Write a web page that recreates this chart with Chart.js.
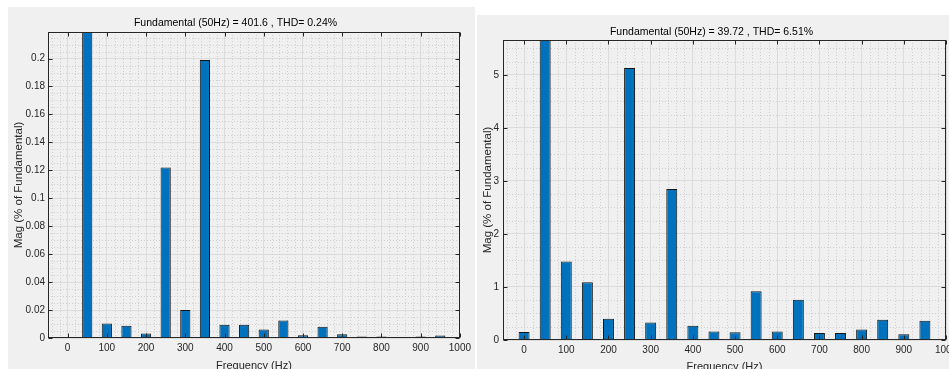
<!DOCTYPE html>
<html><head><meta charset="utf-8">
<script src="https://cdn.jsdelivr.net/npm/chart.js@4.4.0/dist/chart.umd.min.js"></script>
<style>
html,body{margin:0;padding:0;background:#fff;width:949px;height:369px;overflow:hidden;position:relative}
.panel{position:absolute;background:#f0f0f0}
canvas{position:absolute;left:0;top:0}
.wrap{position:absolute}
</style></head><body>
<div class="panel" style="left:8px;top:7px;width:467px;height:362px"></div>
<div class="panel" style="left:477px;top:15px;width:472px;height:354px"></div>
<div class="wrap" style="left:8px;top:7px;"><canvas id="c1" width="467" height="372"></canvas></div>
<div class="wrap" style="left:477px;top:15px;"><canvas id="c2" width="500" height="364"></canvas></div>
<script>
// ---- data ----
const frequencies = [0,50,100,150,200,250,300,350,400,450,500,550,600,650,700,750,800,850,900,950];
const magLeft  = [0,100,0.0104,0.0087,0.0032,0.122,0.0200,0.199,0.0094,0.0094,0.0060,0.0125,0.0020,0.0080,0.0027,0.0010,0.0010,0.0008,0.0010,0.0017];
const magRight = [0.15,100,1.48,1.09,0.40,5.13,0.33,2.85,0.27,0.16,0.145,0.92,0.16,0.76,0.13,0.13,0.20,0.38,0.11,0.365];
const xTickValues = [0,100,200,300,400,500,600,700,800,900,1000];
const yTicksLeft  = [0,0.02,0.04,0.06,0.08,0.1,0.12,0.14,0.16,0.18,0.2];
const yTicksRight = [0,1,2,3,4,5];
const titleLeft  = 'Fundamental (50Hz) = 401.6 , THD= 0.24%';
const titleRight = 'Fundamental (50Hz) = 39.72 , THD= 6.51%';
const xTitle = 'Frequency (Hz)';
const yTitle = 'Mag (% of Fundamental)';

const FONT = "'Liberation Sans', Arial, sans-serif";
const AXIS = '#262626';

const matlabAxes = {
  id: 'matlabAxes',
  beforeDatasetsDraw(chart, args, opts) {
    const {ctx, chartArea: a, scales: {x, y}} = chart;
    ctx.save();
    ctx.beginPath(); ctx.rect(a.left, a.top, a.right - a.left, a.bottom - a.top); ctx.clip();
    ctx.strokeStyle = '#cfcfcf';
    ctx.lineWidth = 1;
    ctx.setLineDash([1, 2]);
    for (let v = Math.ceil(x.min / opts.xMinor) * opts.xMinor; v <= x.max + 1e-9; v += opts.xMinor) {
      if (Math.abs(v % 100) < 1e-9) continue;
      const p = Math.round(x.getPixelForValue(v)) + 0.5;
      ctx.beginPath(); ctx.moveTo(p, a.top); ctx.lineTo(p, a.bottom); ctx.stroke();
    }
    for (let i = 1; y.min + i * opts.yMinor <= y.max + 1e-12; i++) {
      if (i % opts.yMinorPer === 0) continue;
      const v = y.min + i * opts.yMinor;
      const p = Math.round(y.getPixelForValue(v)) + 0.5;
      ctx.beginPath(); ctx.moveTo(a.left, p); ctx.lineTo(a.right, p); ctx.stroke();
    }
    ctx.restore();
  },
  afterDatasetsDraw(chart) {
    const {ctx, chartArea: a, scales: {x, y}} = chart;
    ctx.save();
    ctx.strokeStyle = AXIS;
    ctx.lineWidth = 1;
    const L = Math.round(a.left) + 0.5, R = Math.round(a.right) - 0.5;
    const T = Math.round(a.top) + 0.5, B = Math.round(a.bottom) - 0.5;
    ctx.strokeRect(L, T, R - L, B - T);
    const tl = 4;
    ctx.beginPath();
    x.ticks.forEach(t => {
      const p = Math.round(x.getPixelForValue(t.value)) + 0.5;
      ctx.moveTo(p, B); ctx.lineTo(p, B - tl);
      ctx.moveTo(p, T); ctx.lineTo(p, T + tl);
    });
    y.ticks.forEach(t => {
      const p = Math.round(y.getPixelForValue(t.value)) + 0.5;
      ctx.moveTo(L, p); ctx.lineTo(L + tl, p);
      ctx.moveTo(R, p); ctx.lineTo(R - tl, p);
    });
    ctx.stroke();
    ctx.restore();
  }
};

function makeChart(id, values, yMax, yTicks, yMinor, title, g) {
  return new Chart(document.getElementById(id), {
    type: 'bar',
    data: {
      datasets: [{
        data: frequencies.map((f, i) => ({x: f, y: values[i]})),
        backgroundColor: '#0072BD',
        borderColor: '#151515',
        borderWidth: 1,
        borderSkipped: 'start',
        barPercentage: 0.52,
        categoryPercentage: 1.0
      }]
    },
    options: {
      responsive: false,
      animation: false,
      events: [],
      layout: {padding: {left: 0, top: 0, right: g.padRight, bottom: 0}},
      plugins: {
        legend: {display: false},
        tooltip: {enabled: false},
        title: {
          display: true, text: title, color: '#000',
          font: {family: FONT, size: 10.5, weight: 'normal', lineHeight: 1.2},
          padding: {top: g.titleTop, bottom: g.titleBottom}
        },
        matlabAxes: {xMinor: 20, yMinor: yMinor, yMinorPer: 4}
      },
      scales: {
        x: {
          type: 'linear', min: -50, max: 1000, offset: false,
          grid: {offset: false, color: '#dcdcdc', drawTicks: false},
          border: {display: false},
          afterBuildTicks: s => { s.ticks = xTickValues.map(v => ({value: v})); },
          afterFit: s => { s.height = g.xAxisH; },
          ticks: {color: AXIS, padding: 4, maxRotation: 0, autoSkip: false,
                  font: {family: FONT, size: 10}, callback: v => String(v)},
          title: {display: true, text: xTitle, color: AXIS,
                  font: {family: FONT, size: 11}, padding: {top: 0, bottom: g.xTitlePad}}
        },
        y: {
          type: 'linear', min: 0, max: yMax,
          grid: {color: '#dcdcdc', drawTicks: false},
          border: {display: false},
          afterBuildTicks: s => { s.ticks = yTicks.map(v => ({value: v})); },
          afterFit: s => { s.width = g.yAxisW; },
          ticks: {color: AXIS, padding: g.yTickPad, autoSkip: false,
                  font: {family: FONT, size: 10}, callback: v => String(v)},
          title: {display: true, text: yTitle, color: AXIS,
                  font: {family: FONT, size: 11.5}, padding: {top: 4.2, bottom: 0}}
        }
      }
    },
    plugins: [matlabAxes]
  });
}

makeChart('c1', magLeft, 0.219, yTicksLeft, 0.005, titleLeft,
  {padRight: 12, titleTop: 9.6, titleBottom: 2.8, xAxisH: 41, yAxisW: 40, xTitlePad: 6.4, yTickPad: 3});
makeChart('c2', magRight, 5.66, yTicksRight, 0.25, titleRight,
  {padRight: 31, titleTop: 10.6, titleBottom: 1.8, xAxisH: 39, yAxisW: 26, xTitlePad: 5.4, yTickPad: 4});
</script>
</body></html>
